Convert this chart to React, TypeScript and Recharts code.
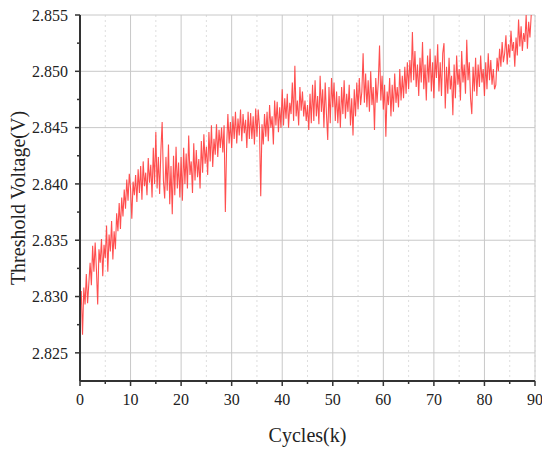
import { LineChart, Line, XAxis, YAxis, CartesianGrid, Label } from "recharts";

const VOLTAGE_MV = [
  2828.5, 2830.5, 2826.6, 2830.8, 2829.3, 2832.0, 2829.4, 2831.2,
  2833.0, 2831.0, 2834.5, 2832.2, 2834.8, 2832.4, 2829.3, 2834.2,
  2833.0, 2835.1, 2831.8, 2834.6, 2833.4, 2836.3, 2832.2, 2835.5,
  2834.0, 2836.7, 2833.3, 2835.8, 2834.2, 2837.4, 2835.8, 2838.3,
  2836.0, 2838.8, 2837.1, 2839.5, 2837.8, 2840.4, 2838.5, 2840.9,
  2839.6, 2836.9, 2840.2, 2839.0, 2840.8, 2838.4, 2841.3, 2839.2,
  2841.6, 2838.6, 2842.0, 2839.8, 2841.0, 2839.0, 2842.3, 2840.1,
  2841.7, 2838.8, 2843.2, 2840.0, 2844.6, 2839.6, 2842.4, 2839.1,
  2843.0, 2845.5, 2840.3, 2838.7, 2842.4, 2839.4, 2843.5, 2838.2,
  2841.6, 2837.3, 2842.5, 2839.0, 2843.3, 2839.6, 2841.9, 2838.8,
  2842.4, 2838.5, 2843.2, 2840.0, 2842.7, 2839.6, 2844.3, 2840.8,
  2842.0, 2839.2, 2843.6, 2840.3, 2843.0, 2840.6, 2842.2, 2839.6,
  2843.8, 2841.0, 2844.4, 2841.8, 2843.3, 2840.8, 2844.6, 2842.0,
  2845.2, 2841.5, 2844.0, 2842.6, 2845.3, 2842.4, 2844.8, 2843.2,
  2845.0, 2842.8, 2845.2, 2837.5, 2843.3, 2846.2, 2843.6, 2845.5,
  2843.2, 2846.0, 2844.0, 2846.4, 2843.6, 2845.8, 2844.3, 2846.6,
  2843.8, 2846.2, 2844.5, 2845.7, 2843.2, 2846.4, 2844.0, 2846.3,
  2844.0, 2846.0, 2843.5, 2846.7, 2844.2, 2846.6, 2845.0, 2838.9,
  2845.3, 2843.5, 2846.2, 2844.2, 2846.4, 2843.8, 2847.0, 2845.0,
  2846.0, 2843.5, 2847.4, 2845.2, 2847.3, 2844.6, 2846.8, 2845.0,
  2848.4, 2845.2, 2847.6, 2845.8, 2848.0, 2845.0, 2847.2, 2846.2,
  2849.0, 2845.6, 2850.5, 2846.0, 2847.4, 2845.2, 2848.6, 2846.5,
  2848.2, 2846.0, 2847.4, 2845.6, 2847.0, 2844.8, 2848.0, 2845.4,
  2848.8, 2845.6, 2849.2, 2846.0, 2847.8, 2845.3, 2849.6, 2846.4,
  2848.4, 2845.0, 2849.0, 2846.2, 2843.9, 2848.6, 2845.4, 2849.4,
  2846.8, 2849.0, 2845.6, 2848.2, 2845.4, 2847.8, 2845.0, 2848.6,
  2846.2, 2849.2, 2845.8, 2848.0, 2846.4, 2848.8, 2845.2, 2847.6,
  2844.3, 2848.4, 2846.0, 2849.0, 2846.6, 2849.4, 2847.0, 2848.2,
  2851.6, 2847.2, 2849.8, 2846.8, 2849.2, 2846.4, 2850.0, 2847.0,
  2848.6, 2844.8, 2849.4, 2847.2, 2849.0, 2852.3, 2847.4, 2849.6,
  2846.6, 2848.8, 2844.2, 2848.2, 2847.0, 2849.4, 2846.0, 2848.8,
  2846.4, 2849.8, 2847.2, 2848.6, 2846.8, 2850.2, 2847.4, 2849.6,
  2847.6, 2850.4, 2848.0, 2850.8, 2848.4, 2851.0, 2849.0, 2853.5,
  2849.2, 2851.8, 2848.6, 2850.6, 2847.8, 2851.2, 2849.0, 2852.6,
  2848.4, 2850.6, 2847.4, 2851.4, 2849.0, 2852.0, 2848.2, 2850.8,
  2847.6, 2851.4, 2849.4, 2852.4, 2848.2, 2850.8, 2847.8, 2851.6,
  2852.5, 2846.7, 2850.4, 2848.0, 2851.2, 2848.4, 2849.6, 2846.1,
  2850.6, 2847.6, 2851.4, 2848.8, 2850.2, 2847.4, 2851.8, 2849.0,
  2850.6, 2848.0, 2852.8, 2849.2, 2850.8, 2847.6, 2846.2, 2850.4,
  2848.2, 2851.2, 2847.8, 2850.6, 2848.6, 2851.4, 2849.0, 2850.2,
  2847.8, 2850.8, 2848.4, 2851.6, 2849.2, 2851.0, 2848.8, 2850.2,
  2848.4, 2848.8, 2851.2, 2850.0, 2852.0, 2850.4, 2852.6, 2850.8,
  2851.6, 2853.2, 2850.6, 2852.4, 2851.2, 2853.6, 2851.8, 2852.6,
  2850.4, 2853.0, 2851.4, 2854.6, 2852.2, 2854.0, 2851.8, 2853.4,
  2852.6, 2855.0, 2852.0, 2854.4, 2853.0, 2855.0,
];
const STEP_K = 0.25;

// all tick positions; the labelled ones are listed separately
const X_TICKS = [0, 5, 10, 15, 20, 25, 30, 35, 40, 45, 50, 55, 60, 65, 70, 75, 80, 85, 90];
const X_LABELS = [0, 10, 20, 30, 40, 50, 60, 70, 80, 90];
const X_GRID = [10, 20, 30, 40, 50, 60, 70, 80];
const X_GRID_MINOR = [5, 15, 25, 35, 45, 55, 65, 75, 85];
const Y_TICKS = [2.8275, 2.83, 2.8325, 2.835, 2.8375, 2.84, 2.8425, 2.845, 2.8475, 2.85, 2.8525, 2.855, 2.825];
const Y_LABELS = [2.825, 2.83, 2.835, 2.84, 2.845, 2.85, 2.855];
const Y_GRID = [2.825, 2.83, 2.835, 2.84, 2.845, 2.85];

const data = VOLTAGE_MV.map((mv, i) => ({ cycle: i * STEP_K, v: mv / 1000 }));

const FONT = "'Liberation Serif', 'DejaVu Serif', serif";
const AXIS = "#333";
const TEXT = "#222";
const MAJOR = 5;
const MINOR = 3;
const GAP = 8;

const isLabel = (list: number[], v: number) => list.some((t) => Math.abs(t - v) < 1e-6);

function XTick(props: any) {
  const { x, y, payload } = props;
  const major = isLabel(X_LABELS, payload.value);
  const y0 = y - MAJOR - GAP;
  return (
    <g>
      <line x1={x} x2={x} y1={y0} y2={y0 + (major ? MAJOR : MINOR)} stroke={AXIS} strokeWidth={1.5} />
      {major && (
        <text x={x} y={y} dy="0.71em" textAnchor="middle" fontSize={16} fontFamily={FONT} fill={TEXT}>
          {payload.value}
        </text>
      )}
    </g>
  );
}

function YTick(props: any) {
  const { x, y, payload } = props;
  const major = isLabel(Y_LABELS, payload.value);
  const x0 = x + MAJOR + GAP - 1;
  return (
    <g>
      <line x1={x0} x2={x0 - (major ? MAJOR : MINOR)} y1={y} y2={y} stroke={AXIS} strokeWidth={1.5} />
      {major && (
        <text x={x} y={y} dy="0.355em" textAnchor="end" fontSize={16} fontFamily={FONT} fill={TEXT}>
          {payload.value.toFixed(3)}
        </text>
      )}
    </g>
  );
}

export default function App() {
  return (
    <LineChart width={542} height={448} data={data} margin={{ top: 7, right: 15, left: 0, bottom: 0 }}>
      <XAxis xAxisId="grid" dataKey="cycle" type="number" domain={[0, 90]} ticks={X_GRID} hide />
      <XAxis xAxisId="gridMinor" dataKey="cycle" type="number" domain={[0, 90]} ticks={X_GRID_MINOR} hide />
      <YAxis yAxisId="grid" type="number" domain={[2.8225, 2.855]} ticks={Y_GRID} hide allowDataOverflow />
      <CartesianGrid xAxisId="gridMinor" yAxisId="grid" horizontal={false} stroke="#dedede" strokeDasharray="2 3" />
      <CartesianGrid xAxisId="grid" yAxisId="grid" stroke="#c8c8c8" strokeWidth={1} />

      <XAxis
        dataKey="cycle"
        type="number"
        domain={[0, 90]}
        ticks={X_TICKS}
        interval={0}
        height={75}
        tickSize={MAJOR}
        tickMargin={GAP}
        tick={<XTick />}
        tickLine={false}
        axisLine={{ stroke: AXIS, strokeWidth: 2 }}
      >
        <Label value="Cycles(k)" position="insideBottom" offset={14} style={{ fontSize: 20, fontFamily: FONT, fill: TEXT }} />
      </XAxis>

      <YAxis
        type="number"
        domain={[2.8225, 2.855]}
        ticks={Y_TICKS}
        interval={0}
        width={72}
        tickSize={MAJOR}
        tickMargin={GAP - 1}
        tick={<YTick />}
        tickLine={false}
        axisLine={{ stroke: AXIS, strokeWidth: 2 }}
        allowDataOverflow
      >
        <Label
          value="Threshold Voltage(V)"
          angle={-90}
          position="insideLeft"
          offset={10}
          style={{ fontSize: 20, fontFamily: FONT, fill: TEXT, textAnchor: "middle" }}
        />
      </YAxis>

      <Line
        dataKey="v"
        type="linear"
        stroke="#ff3030"
        strokeOpacity={0.85}
        strokeWidth={1.1}
        dot={false}
        isAnimationActive={false}
      />
    </LineChart>
  );
}
